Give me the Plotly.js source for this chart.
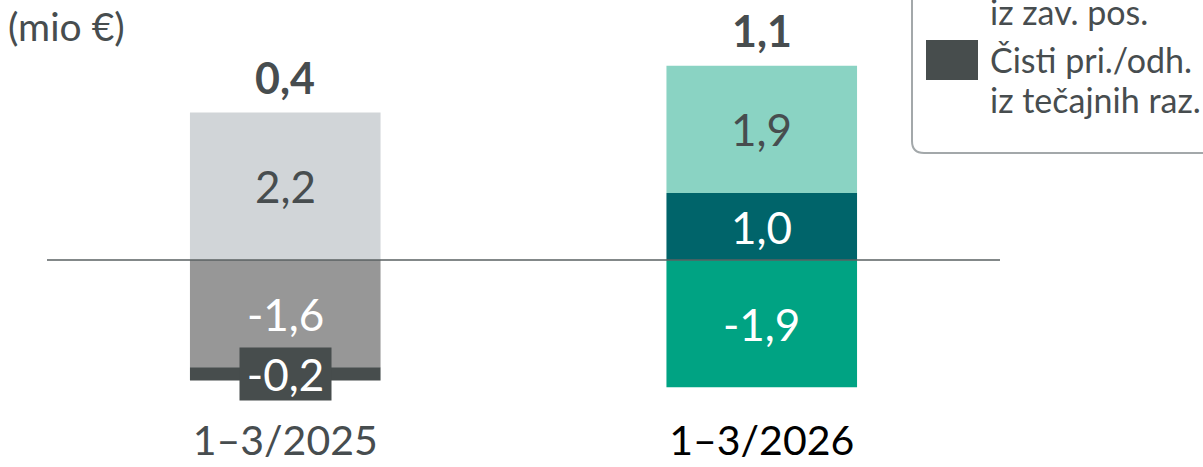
<!DOCTYPE html>
<html>
<head>
<meta charset="utf-8">
<script src="https://cdn.plot.ly/plotly-3.0.1.min.js"></script>
<style>html,body{margin:0;padding:0;background:#fff;}#chart{width:1203px;height:467px;}</style>
</head>
<body>
<div id="chart"></div>
<script>
const categories = ['1–3/2025', '1–3/2026'];
const categoryColors = ['#474d4f', '#000000'];
const insurance = [2.2, 1.9];      // iz zav. pos.
const other = [-1.6, -1.9];
const fx = [-0.2, 1.0];            // iz tečajnih raz.
const totals = [0.4, 1.1];

const insuranceColors = ['#d1d5d8', '#8ad3c3'];
const otherColors = ['#979797', '#00a383'];
const fxColors = ['#474d4d', '#00646a'];

const W = 1203, H = 467, ML = 47, MR = 203, MT = 0, MB = 54;
const PW = W - ML - MR, PH = H - MT - MB;
const px = p => (p - ML) / PW;
const py = p => (H - MB - p) / PH;

const FONT = 'Lato, "Open Sans", sans-serif';
const DARK = '#474d4f';
const fmt = v => v.toFixed(1).replace('.', ',');

const traces = [
  {type: 'bar', x: categories, y: other, marker: {color: otherColors}, width: 0.4, hoverinfo: 'none'},
  {type: 'bar', x: categories, y: fx, marker: {color: fxColors}, width: 0.4, hoverinfo: 'none'},
  {type: 'bar', x: categories, y: insurance, marker: {color: insuranceColors}, width: 0.4, hoverinfo: 'none'}
];

const annotations = [];
categories.forEach((c, i) => {
  let pos = 0, neg = 0;
  const segs = [
    {v: other[i], textColor: '#ffffff'},
    {v: fx[i], textColor: '#ffffff', box: i === 0 ? fxColors[i] : null},
    {v: insurance[i], textColor: DARK}
  ];
  segs.forEach(s => {
    let mid;
    if (s.v >= 0) { mid = pos + s.v / 2; pos += s.v; }
    else { mid = neg + s.v / 2; neg += s.v; }
    const a = {x: c, y: mid, xref: 'x', yref: 'y', text: fmt(s.v), showarrow: false,
      font: {family: FONT, size: 44, color: s.textColor}, xanchor: 'center', yanchor: 'middle'};
    if (s.box) { a.bgcolor = s.box; a.width = 85; a.height = 46; a.borderpad = 3; }
    annotations.push(a);
  });
  annotations.push({x: c, y: pos, xref: 'x', yref: 'y', text: '<b>' + fmt(totals[i]) + '</b>', showarrow: false,
    font: {family: FONT, size: 43, color: DARK}, xanchor: 'center', yanchor: 'bottom', yshift: 8});
});

annotations.push({xref: 'paper', yref: 'paper', x: px(6), y: py(26), text: '(mio €)', showarrow: false,
  xanchor: 'left', yanchor: 'middle', font: {family: FONT, size: 39, color: DARK}});

const legFont = {family: FONT, size: 34, color: DARK};
annotations.push({xref: 'paper', yref: 'paper', x: px(988), y: py(12), text: 'iz zav. pos.', showarrow: false,
  xanchor: 'left', yanchor: 'middle', font: legFont});
annotations.push({xref: 'paper', yref: 'paper', x: px(988), y: py(60), text: 'Čisti pri./odh.', showarrow: false,
  xanchor: 'left', yanchor: 'middle', font: legFont});
annotations.push({xref: 'paper', yref: 'paper', x: px(988), y: py(100), text: 'iz tečajnih raz.', showarrow: false,
  xanchor: 'left', yanchor: 'middle', font: legFont});

const shapes = [
  {type: 'line', xref: 'paper', yref: 'y', x0: 0, x1: 1, y0: 0, y1: 0, layer: 'above',
    line: {color: '#5a6062', width: 1.5}},
  {type: 'path', xref: 'paper', yref: 'paper', layer: 'above',
    path: `M ${px(912)},${py(-20)} L ${px(912)},${py(141)} Q ${px(912)},${py(153)} ${px(924)},${py(153)} L ${px(1230)},${py(153)}`,
    line: {color: '#a3a8aa', width: 2}},
  {type: 'rect', xref: 'paper', yref: 'paper', x0: px(926), x1: px(978), y0: py(80), y1: py(40),
    fillcolor: fxColors[0], line: {width: 0}}
];

const layout = {
  width: W, height: H,
  margin: {l: ML, r: MR, t: MT, b: MB, pad: 0},
  paper_bgcolor: '#ffffff', plot_bgcolor: '#ffffff',
  barmode: 'relative',
  showlegend: false,
  xaxis: {
    range: [-0.5, 1.5], showgrid: false, zeroline: false, showline: false, ticks: '',
    tickvals: categories,
    ticktext: categories.map((c, i) => `<span style="color:${categoryColors[i]}">${c}</span>`),
    tickfont: {family: FONT, size: 41, color: DARK}, fixedrange: true
  },
  yaxis: {
    range: [-(H - MB - 260) / 67, (260 - MT) / 67], showgrid: false, zeroline: false,
    showticklabels: false, ticks: '', showline: false, fixedrange: true
  },
  annotations, shapes
};

Plotly.newPlot('chart', traces, layout, {displayModeBar: false, staticPlot: true});
</script>
</body>
</html>
